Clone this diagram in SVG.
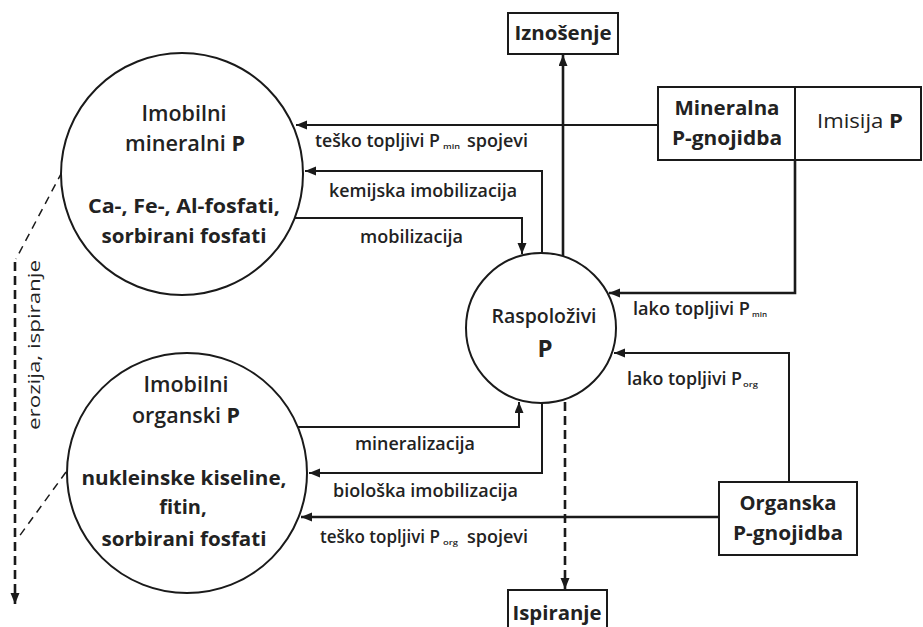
<svg xmlns="http://www.w3.org/2000/svg" width="923" height="627" viewBox="0 0 923 627">
<defs>
<marker id="ah" markerUnits="userSpaceOnUse" markerWidth="12" markerHeight="10" refX="11" refY="4.5" orient="auto">
<path d="M0,0 L11,4.5 L0,9 z" fill="#1a1a1a"/>
</marker>
<style>
.bg{fill:#ffffff}
.node{fill:#ffffff;stroke:#1a1a1a;stroke-width:2}
.t{font-family:"Open Sans","Noto Sans","Liberation Sans",sans-serif;fill:#222;text-anchor:middle}
.b{font-weight:700}
.sb{font-weight:600}
.lab{font-family:"Open Sans","Noto Sans","Liberation Sans",sans-serif;fill:#222;font-weight:600;font-size:17.5px}
.sub{font-family:"Open Sans","Noto Sans","Liberation Sans",sans-serif;fill:#222;font-weight:600;font-size:7px}
.c{fill:none;stroke:#1a1a1a;stroke-width:2}
.thick{stroke-width:2.6}
.dash{stroke-dasharray:9,5}
.dash2{stroke-dasharray:8,6;stroke-width:1.5}
</style>
</defs>
<rect class="bg" x="0" y="0" width="923" height="627"/>

<g id="connectors">
<path class="c" d="M658,125 H296" marker-end="url(#ah)"/>
<path class="c" d="M542,254 V171 H305" marker-end="url(#ah)"/>
<path class="c" d="M295,218 H522 V254" marker-end="url(#ah)"/>
<path class="c thick" d="M563,256 V55" marker-end="url(#ah)"/>
<path class="c thick" d="M795,160 V293 H609" marker-end="url(#ah)"/>
<path class="c" d="M789,482 V353 H614" marker-end="url(#ah)"/>
<path class="c thick" d="M719,517 H301" marker-end="url(#ah)"/>
<path class="c" d="M298,427 H519 V402" marker-end="url(#ah)"/>
<path class="c" d="M542,403 V473 H309" marker-end="url(#ah)"/>
<path class="c thick dash" d="M565,402 V589" marker-end="url(#ah)"/>
<path class="c dash2" d="M62,172 L16,259"/>
<path class="c dash2" d="M66,472 L18,538"/>
<path class="c thick dash" d="M15,262 V604" marker-end="url(#ah)"/>
<text class="t" transform="translate(40,345) rotate(-90)" font-size="17" textLength="170" lengthAdjust="spacingAndGlyphs">erozija, ispiranje</text>

<text class="lab" x="315" y="147" textLength="125" lengthAdjust="spacingAndGlyphs">teško topljivi P</text>
<text class="sub" x="443" y="149" textLength="17" lengthAdjust="spacingAndGlyphs">min</text>
<text class="lab" x="467" y="147" textLength="61" lengthAdjust="spacingAndGlyphs">spojevi</text>

<text class="lab" x="329" y="197" textLength="188" lengthAdjust="spacingAndGlyphs">kemijska imobilizacija</text>
<text class="lab" x="360" y="243" textLength="103" lengthAdjust="spacingAndGlyphs">mobilizacija</text>

<text class="lab" x="633" y="315" textLength="117" lengthAdjust="spacingAndGlyphs">lako topljivi P</text>
<text class="sub" x="752" y="317" textLength="15" lengthAdjust="spacingAndGlyphs">min</text>

<text class="lab" x="627" y="385" textLength="115" lengthAdjust="spacingAndGlyphs">lako topljivi P</text>
<text class="sub" x="743" y="387" textLength="15" lengthAdjust="spacingAndGlyphs">org</text>

<text class="lab" x="355" y="450" textLength="120" lengthAdjust="spacingAndGlyphs">mineralizacija</text>
<text class="lab" x="333" y="497" textLength="185" lengthAdjust="spacingAndGlyphs">biološka imobilizacija</text>

<text class="lab" x="320" y="543" textLength="120" lengthAdjust="spacingAndGlyphs">teško topljivi P</text>
<text class="sub" x="443" y="545" textLength="15" lengthAdjust="spacingAndGlyphs">org</text>
<text class="lab" x="467" y="543" textLength="61" lengthAdjust="spacingAndGlyphs">spojevi</text>
</g>

<g id="imobilni-mineralni">
<circle class="node" cx="182" cy="174" r="121"/>
<text class="t sb" x="184" y="121" font-size="21" textLength="85" lengthAdjust="spacingAndGlyphs">Imobilni</text>
<text class="t sb" x="185" y="151" font-size="21" textLength="120" lengthAdjust="spacingAndGlyphs">mineralni <tspan class="b">P</tspan></text>
<text class="t b" x="184" y="213" font-size="20" textLength="192" lengthAdjust="spacingAndGlyphs">Ca-, Fe-, Al-fosfati,</text>
<text class="t b" x="184" y="243" font-size="20" textLength="165" lengthAdjust="spacingAndGlyphs">sorbirani fosfati</text>
</g>

<g id="imobilni-organski">
<circle class="node" cx="187" cy="473" r="120"/>
<text class="t sb" x="186" y="392" font-size="21" textLength="85" lengthAdjust="spacingAndGlyphs">Imobilni</text>
<text class="t sb" x="186" y="423" font-size="21" textLength="108" lengthAdjust="spacingAndGlyphs">organski <tspan class="b">P</tspan></text>
<text class="t b" x="184" y="485" font-size="20" textLength="205" lengthAdjust="spacingAndGlyphs">nukleinske kiseline,</text>
<text class="t b" x="183" y="514" font-size="20">fitin,</text>
<text class="t b" x="184" y="546" font-size="20" textLength="165" lengthAdjust="spacingAndGlyphs">sorbirani fosfati</text>
</g>

<g id="raspolozivi">
<circle class="node" cx="541" cy="328" r="75"/>
<text class="t sb" x="544" y="323" font-size="19" textLength="105" lengthAdjust="spacingAndGlyphs">Raspoloživi</text>
<text class="t b" x="545" y="357" font-size="24">P</text>
</g>

<g id="iznosenje">
<rect class="node" x="508" y="13" width="110" height="41"/>
<text class="t b" x="563" y="40" font-size="19" textLength="97" lengthAdjust="spacingAndGlyphs">Iznošenje</text>
</g>

<g id="mineralna-gnojidba">
<rect class="node" x="658" y="87" width="137" height="73"/>
<text class="t b" x="727" y="115" font-size="20" textLength="105" lengthAdjust="spacingAndGlyphs">Mineralna</text>
<text class="t b" x="727" y="145" font-size="20" textLength="110" lengthAdjust="spacingAndGlyphs">P-gnojidba</text>
</g>

<g id="imisija">
<rect class="node" x="795" y="87" width="126" height="73"/>
<text class="t" x="860" y="128" font-size="20" textLength="86" lengthAdjust="spacingAndGlyphs">Imisija <tspan class="b">P</tspan></text>
</g>

<g id="organska-gnojidba">
<rect class="node" x="719" y="482" width="138" height="73"/>
<text class="t b" x="788" y="510" font-size="20" textLength="97" lengthAdjust="spacingAndGlyphs">Organska</text>
<text class="t b" x="788" y="540" font-size="20" textLength="110" lengthAdjust="spacingAndGlyphs">P-gnojidba</text>
</g>

<g id="ispiranje">
<rect class="node" x="508" y="590" width="99" height="45"/>
<text class="t b" x="557" y="620" font-size="20" textLength="89" lengthAdjust="spacingAndGlyphs">Ispiranje</text>
</g>
</svg>
